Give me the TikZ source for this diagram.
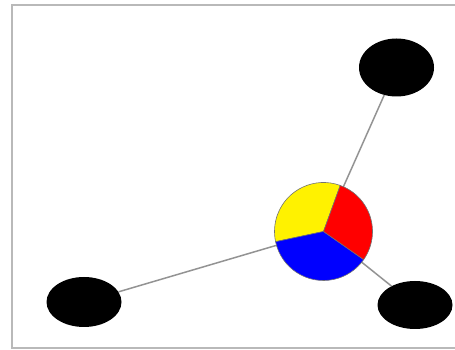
\documentclass[tikz,border=0pt]{standalone}
\usetikzlibrary{shapes.geometric}
\begin{document}
\begin{tikzpicture}[x=1pt,y=1pt,
  leaf/.style={ellipse,fill=black,inner sep=0pt,minimum width=75pt},
  spoke/.style={gray!85,line width=1.5pt},
  wedge/.style={draw=black!55,line width=0.6pt}]
  \useasboundingbox (0,0) rectangle (455,350);
  \clip (0,0) rectangle (455,350);
  \draw[gray!55,line width=2pt] (12,2) rectangle (470,345);
  \node[circle,minimum size=98pt,inner sep=0pt] (hub) at (323.5,118.5) {};
  \node[leaf,minimum height=58pt] (top) at (396.5,282.5) {};
  \node[leaf,minimum height=50pt] (left) at (84,48) {};
  \node[leaf,minimum height=48pt] (right) at (415,45) {};
  \draw[spoke] (hub.center) -- (top);
  \draw[spoke] (hub.center) -- (left);
  \draw[spoke] (hub.center) -- (right);
    \filldraw[wedge,fill=yellow] (hub.center) -- ++(70:49) arc[start angle=70,end angle=192,radius=49] -- cycle;
    \filldraw[wedge,fill=blue] (hub.center) -- ++(192:49) arc[start angle=192,end angle=325,radius=49] -- cycle;
    \filldraw[wedge,fill=red] (hub.center) -- ++(325:49) arc[start angle=325,end angle=430,radius=49] -- cycle;
\end{tikzpicture}
\end{document}
